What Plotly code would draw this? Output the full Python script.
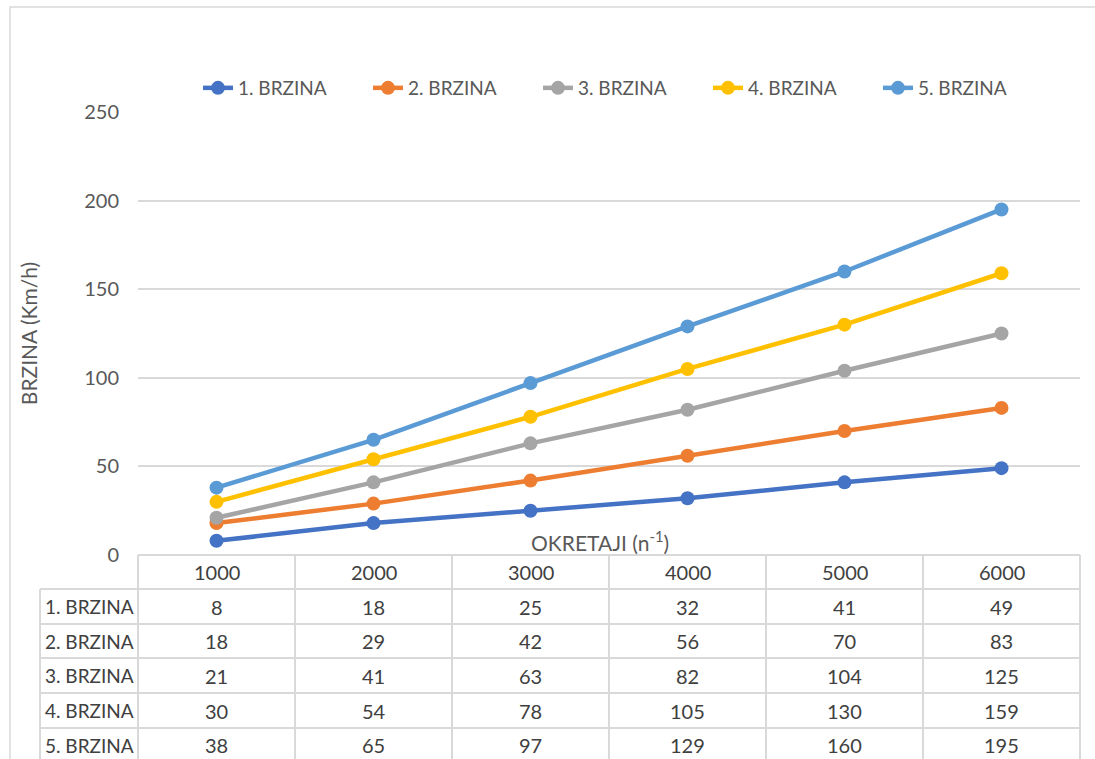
import plotly.graph_objects as go

# ---- data ----
rpm = [1000, 2000, 3000, 4000, 5000, 6000]
series_names = ["1. BRZINA", "2. BRZINA", "3. BRZINA", "4. BRZINA", "5. BRZINA"]
brzina_1 = [8, 18, 25, 32, 41, 49]
brzina_2 = [18, 29, 42, 56, 70, 83]
brzina_3 = [21, 41, 63, 82, 104, 125]
brzina_4 = [30, 54, 78, 105, 130, 159]
brzina_5 = [38, 65, 97, 129, 160, 195]
y_ticks = [0, 50, 100, 150, 200, 250]

series_values = [brzina_1, brzina_2, brzina_3, brzina_4, brzina_5]
colors = ["#4472C4", "#ED7D31", "#A5A5A5", "#FFC000", "#5B9BD5"]

# ---- layout geometry (pixels) ----
W, H = 1095, 759
ML, MR, MT, MB = 138, 15, 112, 204
PW = W - ML - MR
PH = H - MT - MB
FONT = "Lato, 'Noto Sans', sans-serif"
TXT = "#404040"
AX = "#595959"
GRID = "#D9D9D9"


def px_to_py(py):
    return (H - MB - py) / PH


def px_to_px(px):
    return (px - ML) / PW


fig = go.Figure()
for name, vals, c in zip(series_names, series_values, colors):
    fig.add_trace(go.Scatter(
        x=rpm, y=vals, name=name, mode="lines+markers",
        line=dict(color=c, width=4.5),
        marker=dict(color=c, size=14),
        cliponaxis=False,
    ))

step = rpm[1] - rpm[0]
xmin, xmax = rpm[0] - step / 2, rpm[-1] + step / 2


def x_to_paper(x):
    return (x - xmin) / (xmax - xmin)


shapes = []
line_style = dict(color=GRID, width=2)
row_edges_px = [555, 589, 624, 658, 693, 728]
bottom_px = 800
label_left_px = 40
shapes.append(dict(type="line", xref="paper", yref="paper",
                   x0=0, x1=1, y0=px_to_py(row_edges_px[0]), y1=px_to_py(row_edges_px[0]),
                   line=line_style))
for r in row_edges_px[1:]:
    shapes.append(dict(type="line", xref="paper", yref="paper",
                       x0=px_to_px(label_left_px), x1=1, y0=px_to_py(r), y1=px_to_py(r),
                       line=line_style))
bounds = [v - step / 2 for v in rpm] + [rpm[-1] + step / 2]
for b in bounds:
    shapes.append(dict(type="line", xref="paper", yref="paper",
                       x0=x_to_paper(b), x1=x_to_paper(b),
                       y0=px_to_py(row_edges_px[0]), y1=px_to_py(bottom_px),
                       line=line_style))
shapes.append(dict(type="line", xref="paper", yref="paper",
                   x0=px_to_px(label_left_px), x1=px_to_px(label_left_px),
                   y0=px_to_py(row_edges_px[1]), y1=px_to_py(bottom_px),
                   line=line_style))
shapes.append(dict(type="rect", xref="paper", yref="paper",
                   x0=px_to_px(10), x1=px_to_px(1110), y0=px_to_py(800), y1=px_to_py(7),
                   line=dict(color=GRID, width=1.5), fillcolor="rgba(0,0,0,0)", layer="below"))

annotations = []
row_centers = [(row_edges_px[i] + row_edges_px[i + 1]) / 2 for i in range(len(row_edges_px) - 1)]
row_centers.append(row_edges_px[-1] + 17)
for v in rpm:
    annotations.append(dict(x=v, xref="x", y=px_to_py(row_centers[0]), yref="paper",
                            xanchor="center", yanchor="middle",
                            text=str(v), showarrow=False,
                            font=dict(family=FONT, size=20, color=TXT)))
for i, (name, vals) in enumerate(zip(series_names, series_values)):
    yc = px_to_py(row_centers[i + 1])
    annotations.append(dict(x=px_to_px((label_left_px + ML) / 2), xref="paper", y=yc, yref="paper",
                            xanchor="center", yanchor="middle",
                            text=name, showarrow=False,
                            font=dict(family=FONT, size=19, color=TXT)))
    for v, val in zip(rpm, vals):
        annotations.append(dict(x=v, xref="x", y=yc, yref="paper",
                                xanchor="center", yanchor="middle",
                                text=str(val), showarrow=False,
                                font=dict(family=FONT, size=20, color=TXT)))
annotations.append(dict(x=px_to_px(600), xref="paper", y=px_to_py(541), yref="paper",
                        xanchor="center", yanchor="middle",
                        text="OKRETAJI (n<sup>-1</sup>)", showarrow=False,
                        font=dict(family=FONT, size=21, color=AX)))

fig.update_layout(
    width=W, height=H,
    margin=dict(l=ML, r=MR, t=MT, b=MB, autoexpand=False),
    paper_bgcolor="white", plot_bgcolor="white",
    font=dict(family=FONT, color=AX),
    showlegend=True,
    legend=dict(orientation="h", x=px_to_px(198), xanchor="left",
                y=px_to_py(88), yanchor="middle",
                entrywidth=125, font=dict(family=FONT, size=19, color=AX),
                bgcolor="rgba(0,0,0,0)"),
    xaxis=dict(range=[xmin, xmax], showticklabels=False, showgrid=False,
               zeroline=False, showline=False, tickvals=rpm),
    yaxis=dict(range=[y_ticks[0], y_ticks[-1]], tickvals=y_ticks, showgrid=True,
               gridcolor=GRID, gridwidth=2, zeroline=False, showline=False,
               ticklabelstandoff=18,
               tickfont=dict(family=FONT, size=20, color=AX),
               title=dict(text="BRZINA (Km/h)", standoff=40,
                          font=dict(family=FONT, size=21, color=AX))),
    shapes=shapes,
    annotations=annotations,
)

fig.write_html("out.html", config={"displayModeBar": False},
               post_script="document.body.style.margin='0';")
